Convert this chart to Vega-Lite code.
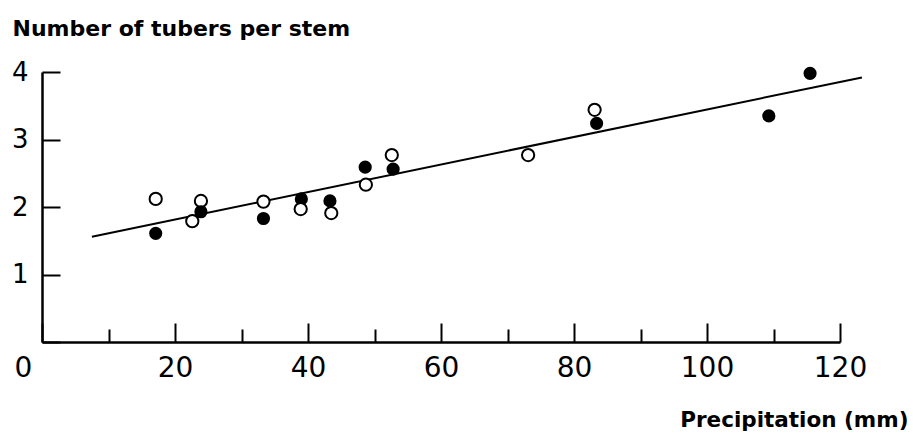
{
  "$schema": "https://vega.github.io/schema/vega-lite/v6.json",
  "width": 798,
  "height": 270,
  "autosize": "none",
  "padding": {"left": 42, "top": 72, "right": 73, "bottom": 99},
  "background": "white",
  "config": {"view": {"stroke": null}, "font": "DejaVu Sans"},
  "datasets": {
    "points": [
      {"precip": 17.1, "tubers": 2.12, "type": "open"},
      {"precip": 17.1, "tubers": 1.61, "type": "filled"},
      {"precip": 22.6, "tubers": 1.79, "type": "open"},
      {"precip": 23.9, "tubers": 2.09, "type": "open"},
      {"precip": 23.9, "tubers": 1.93, "type": "filled"},
      {"precip": 33.3, "tubers": 2.08, "type": "open"},
      {"precip": 33.3, "tubers": 1.83, "type": "filled"},
      {"precip": 39.0, "tubers": 2.12, "type": "filled"},
      {"precip": 38.9, "tubers": 1.97, "type": "open"},
      {"precip": 43.3, "tubers": 2.09, "type": "filled"},
      {"precip": 43.5, "tubers": 1.91, "type": "open"},
      {"precip": 48.6, "tubers": 2.59, "type": "filled"},
      {"precip": 48.7, "tubers": 2.33, "type": "open"},
      {"precip": 52.8, "tubers": 2.56, "type": "filled"},
      {"precip": 52.6, "tubers": 2.77, "type": "open"},
      {"precip": 73.1, "tubers": 2.77, "type": "open"},
      {"precip": 83.4, "tubers": 3.24, "type": "filled"},
      {"precip": 83.1, "tubers": 3.44, "type": "open"},
      {"precip": 109.3, "tubers": 3.35, "type": "filled"},
      {"precip": 115.5, "tubers": 3.98, "type": "filled"}
    ],
    "fit": [
      {"precip": 7.5, "tubers": 1.56},
      {"precip": 123.3, "tubers": 3.92}
    ]
  },
  "layer": [
    {
      "data": {"name": "fit"},
      "mark": {"type": "line", "color": "black", "strokeWidth": 2, "clip": false},
      "encoding": {
        "x": {
          "field": "precip", "type": "quantitative",
          "scale": {"domain": [0, 120], "nice": false, "zero": false},
          "axis": {
            "values": [0, 10, 20, 30, 40, 50, 60, 70, 80, 90, 100, 110, 120],
            "labelExpr": "datum.value % 20 === 0 ? datum.label : ''",
            "tickSize": {"condition": {"test": "datum.value % 20 === 0", "value": -19}, "value": -13},
            "tickColor": "black",
            "tickWidth": 2,
            "domainColor": "black",
            "domainWidth": 2.5,
            "grid": false,
            "labelFont": "DejaVu Sans",
            "labelFontSize": 28,
            "labelColor": "black",
            "labelPadding": 31,
            "labelBaseline": "top",
            "labelFlush": false,
            "labelOverlap": false,
            "labelOffset": {"condition": {"test": "datum.value === 0", "value": -19}, "value": 0},
            "title": "Precipitation (mm)",
            "titleFont": "DejaVu Sans",
            "titleFontSize": 21.5,
            "titleFontWeight": "bold",
            "titleColor": "black",
            "titleAlign": "right",
            "titleBaseline": "alphabetic",
            "titleAnchor": null,
            "titleX": 866,
            "titleY": 84
          }
        },
        "y": {
          "field": "tubers", "type": "quantitative",
          "scale": {"domain": [0, 4], "nice": false, "zero": false},
          "axis": {
            "values": [0, 1, 2, 3, 4],
            "format": "d",
            "labelExpr": "datum.value === 0 ? '' : datum.label",
            "tickSize": -18,
            "tickColor": "black",
            "tickWidth": 2,
            "domainColor": "black",
            "domainWidth": 2.5,
            "grid": false,
            "labelFont": "DejaVu Sans",
            "labelFontSize": 26,
            "labelColor": "black",
            "labelPadding": 32,
            "labelFlush": false,
            "title": "Number of tubers per stem",
            "titleFont": "DejaVu Sans",
            "titleFontSize": 22,
            "titleFontWeight": "bold",
            "titleColor": "black",
            "titleAngle": 0,
            "titleAlign": "left",
            "titleBaseline": "alphabetic",
            "titleAnchor": null,
            "titleX": -30,
            "titleY": -37
          }
        }
      }
    },
    {
      "data": {"name": "points"},
      "mark": {"type": "point", "shape": "circle", "stroke": "black", "strokeWidth": 2, "opacity": 1, "filled": false},
      "encoding": {
        "x": {"field": "precip", "type": "quantitative"},
        "y": {"field": "tubers", "type": "quantitative"},
        "fill": {
          "field": "type", "type": "nominal",
          "scale": {"domain": ["filled", "open"], "range": ["black", "white"]},
          "legend": null
        },
        "size": {
          "field": "type", "type": "nominal",
          "scale": {"domain": ["filled", "open"], "range": [125, 150]},
          "legend": null
        },
        "fillOpacity": {"value": 1}
      }
    }
  ]
}
